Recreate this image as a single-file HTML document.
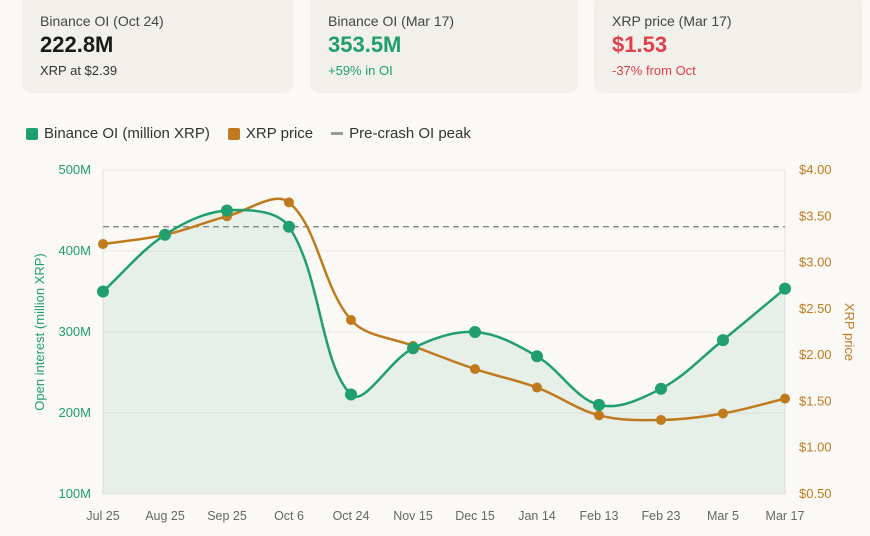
<!DOCTYPE html>
<html><head><meta charset="utf-8"><style>
body{margin:0;width:870px;height:536px;background:#faf9f6;font-family:"Liberation Sans",sans-serif;overflow:hidden;position:relative}
.card{position:absolute;top:-6px;height:99px;background:#f2f0eb;border-radius:10px}
.lab{position:absolute;left:18px;top:19px;font-size:14px;color:#444}
.val{position:absolute;left:18px;top:38px;font-size:22px;font-weight:bold;color:#1a1a1a}
.sub{position:absolute;left:18px;top:69px;font-size:13px;color:#333}
.legend{position:absolute;top:125px;left:26px;font-size:15px;color:#333;display:flex;gap:18px}
.legend span{display:flex;align-items:center;gap:6px}
</style></head><body>
<div class="card" style="left:22px;width:271px"><div class="lab">Binance OI (Oct 24)</div><div class="val">222.8M</div><div class="sub">XRP at $2.39</div></div>
<div class="card" style="left:310px;width:268px"><div class="lab">Binance OI (Mar 17)</div><div class="val" style="color:#1f9e6e">353.5M</div><div class="sub" style="color:#1f9e6e">+59% in OI</div></div>
<div class="card" style="left:594px;width:268px"><div class="lab">XRP price (Mar 17)</div><div class="val" style="color:#e0404a">$1.53</div><div class="sub" style="color:#e0404a">-37% from Oct</div></div>
<div class="legend">
<span><i style="width:12px;height:12px;background:#1f9e6e;border-radius:2px;display:inline-block"></i>Binance OI (million XRP)</span>
<span><i style="width:12px;height:12px;background:#c07a1e;border-radius:2px;display:inline-block"></i>XRP price</span>
<span><i style="width:12px;height:3px;background:#999;display:inline-block"></i>Pre-crash OI peak</span>
</div>
<svg id="c" width="870" height="536" style="position:absolute;left:0;top:0"></svg>
<script>
const categories=["Jul 25","Aug 25","Sep 25","Oct 6","Oct 24","Nov 15","Dec 15","Jan 14","Feb 13","Feb 23","Mar 5","Mar 17"];
const oiValues=[350,420,450,430,222.8,280,300,270,210,230,290,353.5];
const priceValues=[3.2,3.3,3.5,3.65,2.38,2.1,1.85,1.65,1.35,1.3,1.37,1.53];
const peakValue=430;
const leftTicks=[100,200,300,400,500];
const rightTicks=[0.5,1,1.5,2,2.5,3,3.5,4];
const X0=103,X1=785,YT=170,YB=494;
const x=i=>X0+(X1-X0)*i/(categories.length-1);
const yL=v=>YB-(v-100)/400*(YB-YT);
const yR=v=>YB-(v-0.5)/3.5*(YB-YT);
const svg=document.getElementById('c');
const NS='http://www.w3.org/2000/svg';
function mk(t,a,p){const e=document.createElementNS(NS,t);for(const k in a)e.setAttribute(k,a[k]);(p||svg).appendChild(e);return e;}
function path(pts){const t=0.35;let d=`M${pts[0][0]},${pts[0][1]}`;const cp=[];
for(let i=0;i<pts.length;i++){const p=pts[i],pr=pts[i-1]||p,nx=pts[i+1]||p;
const d01=Math.hypot(p[0]-pr[0],p[1]-pr[1]),d12=Math.hypot(nx[0]-p[0],nx[1]-p[1]);
let fa=d01/(d01+d12)||0,fb=d12/(d01+d12)||0;fa*=t;fb*=t;
cp.push([[p[0]-fa*(nx[0]-pr[0]),p[1]-fa*(nx[1]-pr[1])],[p[0]+fb*(nx[0]-pr[0]),p[1]+fb*(nx[1]-pr[1])]]);}
for(let i=1;i<pts.length;i++){const a=cp[i-1][1],b=cp[i][0];d+=` C${a[0]},${a[1]} ${b[0]},${b[1]} ${pts[i][0]},${pts[i][1]}`;}
return d;}
leftTicks.forEach(v=>{const g=mk('line',{x1:X0,x2:X1,y1:yL(v),y2:yL(v),stroke:'#e8e6e1','stroke-width':1});

const t=mk('text',{x:X0-12,y:yL(v)+4,'text-anchor':'end','font-size':13,fill:'#1f9e6e'});t.textContent=v+'M';
});
rightTicks.forEach(v=>{const t=mk('text',{x:X1+14,y:yR(v)+4,'font-size':13,fill:'#c07a1e'});t.textContent='$'+v.toFixed(2);
});
mk('line',{x1:X0,x2:X0,y1:YT,y2:YB,stroke:'#e3e1dc'});mk('line',{x1:X1,x2:X1,y1:YT,y2:YB,stroke:'#e3e1dc'});
categories.forEach((c,i)=>{const t=mk('text',{x:x(i),y:520,'text-anchor':'middle','font-size':12.5,fill:'#666'});t.textContent=c;
});
const oiPts=oiValues.map((v,i)=>[x(i),yL(v)]);
const prPts=priceValues.map((v,i)=>[x(i),yR(v)]);
const lp=path(oiPts);
const area=mk('path',{d:lp+` L${X1},${YB} L${X0},${YB} Z`,fill:'#1f9e6e','fill-opacity':0.09});

const pk=mk('line',{x1:X0,x2:X1,y1:yL(peakValue),y2:yL(peakValue),stroke:'#888','stroke-dasharray':'6,4','stroke-width':1.3});

const pl=mk('path',{d:path(prPts),fill:'none',stroke:'#c07a1e','stroke-width':2.5});

const ol=mk('path',{d:lp,fill:'none',stroke:'#1f9e6e','stroke-width':2.5});

prPts.forEach(p=>{const c=mk('circle',{cx:p[0],cy:p[1],r:5,fill:'#c07a1e'});
});
oiPts.forEach(p=>{const c=mk('circle',{cx:p[0],cy:p[1],r:6,fill:'#1f9e6e'});
});
const lt=mk('text',{x:0,y:0,'text-anchor':'middle','font-size':13,fill:'#1f9e6e',transform:`translate(44,${(YT+YB)/2}) rotate(-90)`});lt.textContent='Open interest (million XRP)';

const rt=mk('text',{x:0,y:0,'text-anchor':'middle','font-size':13,fill:'#c07a1e',transform:`translate(845,${(YT+YB)/2}) rotate(90)`});rt.textContent='XRP price';

</script>
</body></html>
